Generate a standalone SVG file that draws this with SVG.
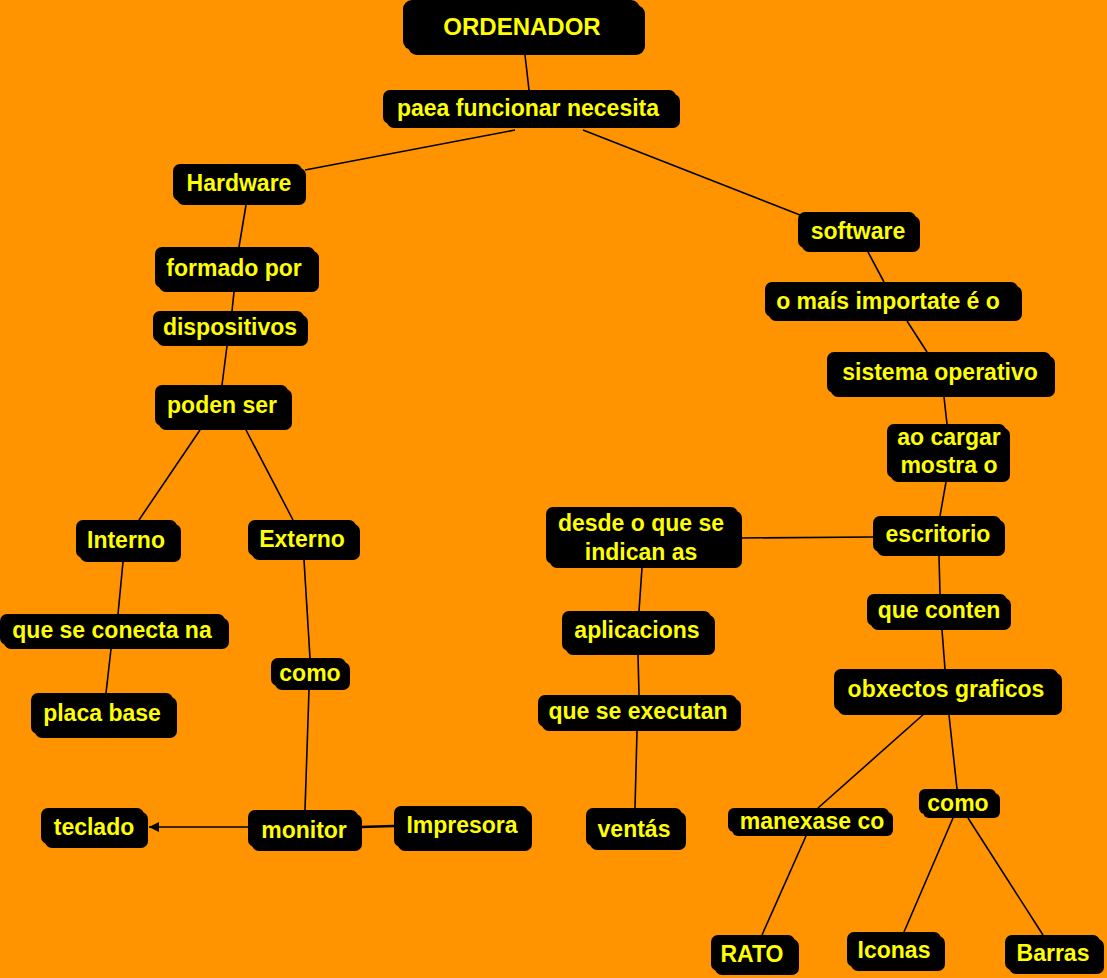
<svg xmlns="http://www.w3.org/2000/svg" width="1107" height="978" viewBox="0 0 1107 978">
<style>
.n rect{fill:#000}
.n text{fill:#FFFF00;font-family:"Liberation Sans",Arial,sans-serif;font-weight:bold;font-size:23px;text-anchor:middle;dominant-baseline:central}
.c line{stroke:#000;stroke-width:1.6}
</style>
<defs>
<marker id="ah" viewBox="0 0 10 10" refX="10" refY="5" markerWidth="12" markerHeight="10" markerUnits="userSpaceOnUse" orient="auto"><path d="M0,0 L10,5 L0,10 z" fill="#000"/></marker>
</defs>
<rect width="1107" height="978" fill="#FF9400"/>
<g class="c">
<line x1="525" y1="55" x2="529" y2="90"/>
<line x1="515" y1="130" x2="305" y2="170"/>
<line x1="583" y1="130" x2="800" y2="215"/>
<line x1="246" y1="205" x2="239" y2="247"/>
<line x1="234" y1="292" x2="232" y2="311"/>
<line x1="227" y1="346" x2="222" y2="385"/>
<line x1="200" y1="430" x2="139" y2="520"/>
<line x1="246" y1="430" x2="293" y2="520"/>
<line x1="123" y1="562" x2="118" y2="614"/>
<line x1="111" y1="649" x2="106" y2="693"/>
<line x1="304" y1="560" x2="310" y2="658"/>
<line x1="309" y1="690" x2="305" y2="810"/>
<line x1="250" y1="827" x2="149" y2="827" marker-end="url(#ah)"/>
<line x1="394" y1="826" x2="360" y2="827" style="stroke-width:2.5"/>
<line x1="868" y1="252" x2="884" y2="282"/>
<line x1="907" y1="321" x2="927" y2="352"/>
<line x1="944" y1="397" x2="947" y2="424"/>
<line x1="946" y1="482" x2="940" y2="516"/>
<line x1="873" y1="537" x2="740" y2="538"/>
<line x1="939" y1="556" x2="940" y2="594"/>
<line x1="942" y1="630" x2="945" y2="669"/>
<line x1="642" y1="568" x2="639" y2="611"/>
<line x1="638" y1="655" x2="639" y2="695"/>
<line x1="637" y1="731" x2="635" y2="808"/>
<line x1="925" y1="713" x2="818" y2="808"/>
<line x1="949" y1="715" x2="957" y2="789"/>
<line x1="806" y1="836" x2="762" y2="935"/>
<line x1="953" y1="818" x2="904" y2="932"/>
<line x1="968" y1="818" x2="1043" y2="935"/>
</g>
<g id="ordenador" class="n"><rect x="408" y="5" width="237" height="50" rx="9"/><rect x="403" y="0" width="237" height="50" rx="9"/><text x="522" y="26" style="font-size:24px">ORDENADOR</text></g>
<g id="paea" class="n"><rect x="387" y="94" width="293" height="34" rx="7"/><rect x="383" y="90" width="293" height="34" rx="7"/><text x="528" y="108">paea funcionar necesita</text></g>
<g id="hardware" class="n"><rect x="177" y="168" width="129" height="37" rx="7"/><rect x="173" y="164" width="129" height="37" rx="7"/><text x="239" y="183">Hardware</text></g>
<g id="software" class="n"><rect x="802" y="216" width="118" height="36" rx="7"/><rect x="798" y="212" width="118" height="36" rx="7"/><text x="858" y="231">software</text></g>
<g id="formado" class="n"><rect x="159" y="251" width="160" height="41" rx="7"/><rect x="155" y="247" width="160" height="41" rx="7"/><text x="234" y="268">formado por</text></g>
<g id="omais" class="n"><rect x="769" y="286" width="253" height="35" rx="7"/><rect x="765" y="282" width="253" height="35" rx="7"/><text x="888" y="301">o maís importate é o</text></g>
<g id="dispositivos" class="n"><rect x="157" y="315" width="151" height="31" rx="7"/><rect x="153" y="311" width="151" height="31" rx="7"/><text x="230" y="327">dispositivos</text></g>
<g id="sistema" class="n"><rect x="831" y="356" width="224" height="41" rx="7"/><rect x="827" y="352" width="224" height="41" rx="7"/><text x="940" y="372">sistema operativo</text></g>
<g id="poden" class="n"><rect x="159" y="389" width="133" height="41" rx="7"/><rect x="155" y="385" width="133" height="41" rx="7"/><text x="222" y="405">poden ser</text></g>
<g id="aocargar" class="n"><rect x="891" y="428" width="119" height="54" rx="7"/><rect x="887" y="424" width="119" height="54" rx="7"/><text x="949" y="437">ao cargar</text><text x="949" y="465">mostra o</text></g>
<g id="desde" class="n"><rect x="550" y="511" width="192" height="57" rx="7"/><rect x="546" y="507" width="192" height="57" rx="7"/><text x="641" y="523">desde o que se</text><text x="641" y="552">indican as</text></g>
<g id="escritorio" class="n"><rect x="877" y="520" width="128" height="36" rx="7"/><rect x="873" y="516" width="128" height="36" rx="7"/><text x="938" y="534">escritorio</text></g>
<g id="interno" class="n"><rect x="80" y="524" width="101" height="38" rx="7"/><rect x="76" y="520" width="101" height="38" rx="7"/><text x="126" y="540">Interno</text></g>
<g id="externo" class="n"><rect x="252" y="524" width="108" height="36" rx="7"/><rect x="248" y="520" width="108" height="36" rx="7"/><text x="302" y="539">Externo</text></g>
<g id="conecta" class="n"><rect x="4" y="618" width="225" height="31" rx="7"/><rect x="0" y="614" width="225" height="31" rx="7"/><text x="112" y="630">que se conecta na</text></g>
<g id="aplicacions" class="n"><rect x="566" y="615" width="149" height="40" rx="7"/><rect x="562" y="611" width="149" height="40" rx="7"/><text x="637" y="630">aplicacions</text></g>
<g id="conten" class="n"><rect x="871" y="598" width="140" height="32" rx="7"/><rect x="867" y="594" width="140" height="32" rx="7"/><text x="939" y="610">que conten</text></g>
<g id="obxectos" class="n"><rect x="838" y="673" width="224" height="42" rx="7"/><rect x="834" y="669" width="224" height="42" rx="7"/><text x="946" y="689">obxectos graficos</text></g>
<g id="como1" class="n"><rect x="275" y="662" width="75" height="28" rx="7"/><rect x="271" y="658" width="75" height="28" rx="7"/><text x="310" y="673">como</text></g>
<g id="placa" class="n"><rect x="35" y="697" width="142" height="41" rx="7"/><rect x="31" y="693" width="142" height="41" rx="7"/><text x="102" y="713">placa base</text></g>
<g id="executan" class="n"><rect x="542" y="699" width="199" height="32" rx="7"/><rect x="538" y="695" width="199" height="32" rx="7"/><text x="638" y="711">que se executan</text></g>
<g id="manexase" class="n"><rect x="732" y="812" width="161" height="24" rx="6"/><rect x="728" y="808" width="161" height="24" rx="6"/><text x="812" y="821">manexase co</text></g>
<g id="como2" class="n"><rect x="923" y="793" width="77" height="25" rx="6"/><rect x="919" y="789" width="77" height="25" rx="6"/><text x="958" y="803">como</text></g>
<g id="teclado" class="n"><rect x="45" y="812" width="103" height="36" rx="7"/><rect x="41" y="808" width="103" height="36" rx="7"/><text x="94" y="827">teclado</text></g>
<g id="monitor" class="n"><rect x="252" y="814" width="110" height="37" rx="7"/><rect x="248" y="810" width="110" height="37" rx="7"/><text x="304" y="830">monitor</text></g>
<g id="impresora" class="n"><rect x="398" y="810" width="134" height="41" rx="7"/><rect x="394" y="806" width="134" height="41" rx="7"/><text x="462" y="825">Impresora</text></g>
<g id="ventas" class="n"><rect x="590" y="812" width="96" height="38" rx="7"/><rect x="586" y="808" width="96" height="38" rx="7"/><text x="634" y="829">ventás</text></g>
<g id="rato" class="n"><rect x="715" y="939" width="84" height="36" rx="7"/><rect x="711" y="935" width="84" height="36" rx="7"/><text x="752" y="954">RATO</text></g>
<g id="iconas" class="n"><rect x="851" y="936" width="94" height="35" rx="7"/><rect x="847" y="932" width="94" height="35" rx="7"/><text x="894" y="950">Iconas</text></g>
<g id="barras" class="n"><rect x="1009" y="939" width="95" height="35" rx="7"/><rect x="1005" y="935" width="95" height="35" rx="7"/><text x="1053" y="953">Barras</text></g>
</svg>
